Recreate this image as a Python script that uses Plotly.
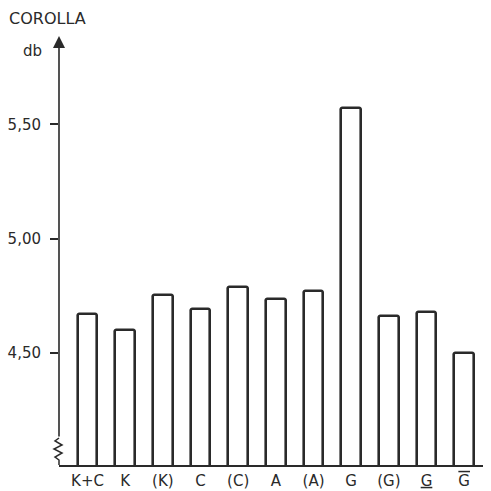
import plotly.graph_objects as go

# Corolla measurements (db) per group
categories = ["K+C", "K", "(K)", "C", "(C)", "A", "(A)", "G", "(G)", "<u>G</u>",
              "<span style='text-decoration:overline'>G</span>"]
values = [4.67, 4.60, 4.755, 4.69, 4.79, 4.735, 4.77, 5.57, 4.66, 4.68, 4.50]
y_ticks = [4.50, 5.00, 5.50]
y_tick_labels = ["4,50", "5,00", "5,50"]

x_pos = list(range(len(categories)))
ink = "#2a2a2a"
font = "DejaVu Sans"

# plot area in pixels (left 59 .. right 483, top 40 .. bottom 465)
W, H = 491, 491
L, R, T, B = 59, 8, 40, 26
pw, ph = W - L - R, H - T - B


def px(x):
    return (x - L) / pw


def py(y):
    return (H - B - y) / ph


fig = go.Figure()
fig.add_trace(go.Bar(
    x=x_pos, y=values, width=0.52,
    marker=dict(color="white", line=dict(color=ink, width=2.6), cornerradius=2),
))

# y axis line with a break near the bottom and an arrow at the top
zig = [(59, 438), (55, 441), (62, 445), (54, 449), (62, 453), (55, 457), (59, 460), (59, 465)]
path = "M " + " L ".join(f"{px(a):.5f},{py(b):.5f}" for a, b in zig)
shapes = [
    dict(type="path", xref="paper", yref="paper", path=path,
         line=dict(color=ink, width=1.5)),
]

annotations = [
    dict(xref="paper", yref="paper", x=px(59), y=py(36), ax=0, ay=402,
         axref="pixel", ayref="pixel", text="", showarrow=True,
         arrowhead=2, arrowsize=1.5, arrowwidth=1.6, arrowcolor=ink),
    dict(xref="paper", yref="paper", x=px(7), y=py(18), text="COROLLA",
         showarrow=False, xanchor="left", yanchor="middle",
         font=dict(family=font, size=16, color=ink)),
    dict(xref="paper", yref="paper", x=px(21), y=py(51), text="db",
         showarrow=False, xanchor="left", yanchor="middle",
         font=dict(family=font, size=15, color=ink)),
]

fig.update_layout(
    width=W, height=H,
    margin=dict(l=L, r=R, t=T, b=B, pad=0),
    paper_bgcolor="white", plot_bgcolor="white",
    showlegend=False, bargap=0,
    shapes=shapes, annotations=annotations,
    xaxis=dict(
        range=[-0.757, 10.5], tickmode="array", tickvals=x_pos, ticktext=categories,
        showline=True, linecolor=ink, linewidth=1.6, showgrid=False, zeroline=False,
        ticks="", ticklabelstandoff=1, automargin=False,
        tickfont=dict(family=font, size=15, color=ink),
    ),
    yaxis=dict(
        range=[4.009, 5.869], tickmode="array", tickvals=y_ticks, ticktext=y_tick_labels,
        showline=False, showgrid=False, zeroline=False, automargin=False,
        ticks="outside", ticklen=8, tickwidth=1.5, tickcolor=ink, ticklabelstandoff=6,
        tickfont=dict(family=font, size=15, color=ink),
    ),
)

fig.write_html("out.html")
